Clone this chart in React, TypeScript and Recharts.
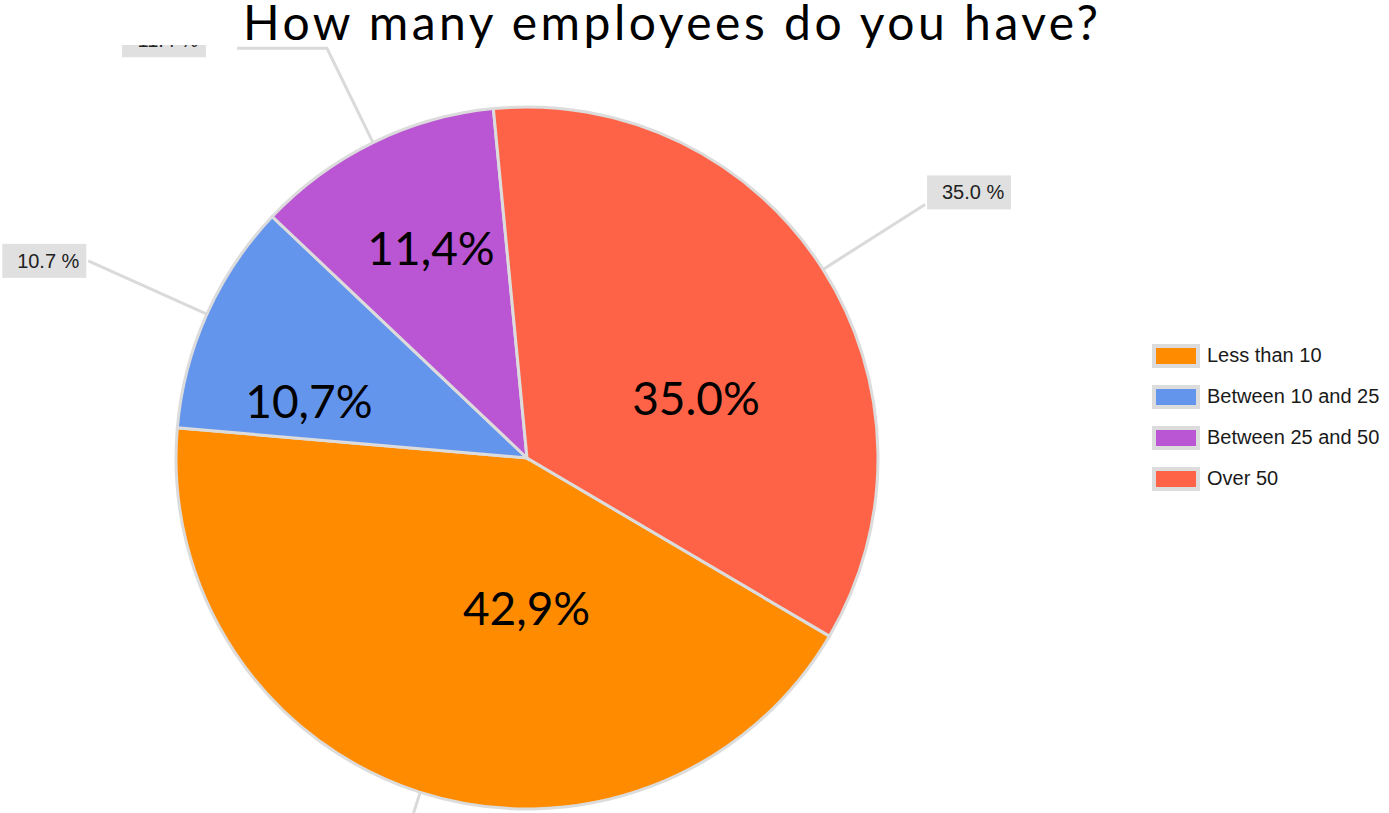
import { PieChart, Pie, Cell, Legend } from "recharts";

// ── Data ───────────────────────────────────────────────────────────────────

const categories = ["Less than 10", "Between 10 and 25", "Between 25 and 50", "Over 50"];
const shares = [42.9, 10.7, 11.4, 35.0];
// the big labels typed on the slide (mixed separators kept as-is)
const slideLabels = ["42,9%", "10,7%", "11,4%", "35.0%"];
const colors = ["#FF8C00", "#6495ED", "#BA55D3", "#FF6347"];

const data = categories.map((name, i) => ({ name, value: shares[i] }));

// ── Label layout tweaks ────────────────────────────────────────────────────

const insideNudge = [
  [53, -18],
  [-58, 14],
  [-19, -53],
  [21, 34],
];
const leaders = [
  { len: 100, elbow: 0, gap: 2, dy: 0 },
  { len: 130, elbow: 0, gap: 2, dy: 0 },
  { len: 105, elbow: 90, gap: 31, dy: -8 },
  { len: 121, elbow: 0, gap: 2, dy: -12 },
];

const RAD = Math.PI / 180;
const slideFont = "Lato, 'Noto Sans', sans-serif";
const winFont = "'Liberation Sans', Arial, sans-serif";

function renderLabel(props: any) {
  const { cx, cy, midAngle, outerRadius, index, value } = props;
  const cos = Math.cos(-midAngle * RAD);
  const sin = Math.sin(-midAngle * RAD);
  const ix = cx + outerRadius * 0.5 * cos + insideNudge[index][0];
  const iy = cy + outerRadius * 0.5 * sin + insideNudge[index][1];

  const l = leaders[index];
  const sx = cx + outerRadius * cos;
  const sy = cy + outerRadius * sin;
  const ex = sx + l.len * cos;
  const ey = sy + l.len * sin;
  const right = cos >= 0;
  const hx = ex + (right ? 1 : -1) * l.elbow;
  const boxW = 84;
  const boxH = 34;
  const bx = right ? hx + l.gap : hx - l.gap - boxW;
  const by = ey + l.dy - boxH / 2;

  return (
    <g key={`lbl-${index}`}>
      <polyline
        points={`${sx},${sy} ${ex},${ey} ${hx},${ey}`}
        fill="none"
        stroke="#dadada"
        strokeWidth={3}
      />
      <rect x={bx} y={by} width={boxW} height={boxH} fill="#e0e0e0" />
      <text
        x={bx + boxW / 2 + 4}
        y={by + boxH / 2}
        textAnchor="middle"
        dominantBaseline="central"
        fontFamily={winFont}
        fontSize={20}
        fill="#222"
      >
        {`${Number(value).toFixed(1)} %`}
      </text>
      <text
        x={ix}
        y={iy}
        textAnchor="middle"
        dominantBaseline="central"
        fontFamily={slideFont}
        fontSize={46}
        fill="#000"
      >
        {slideLabels[index]}
      </text>
    </g>
  );
}

function LegendContent() {
  return (
    <div style={{ fontFamily: winFont, fontSize: 20, color: "#1a1a1a" }}>
      {categories.map((c, i) => (
        <div key={c} style={{ display: "flex", alignItems: "center", height: 41, whiteSpace: "nowrap" }}>
          <span
            style={{
              display: "inline-block",
              width: 40,
              height: 16,
              background: colors[i],
              border: "4px solid #dcdcdc",
              marginRight: 7,
            }}
          />
          {c}
        </div>
      ))}
    </div>
  );
}

export default function App() {
  return (
    <div
      style={{
        position: "fixed",
        left: 0,
        top: 0,
        width: 1389,
        height: 813,
        overflow: "hidden",
        background: "#fff",
      }}
    >
      <PieChart width={1389} height={813} margin={{ top: 0, right: 0, bottom: 0, left: 0 }}>
        <Pie
          data={data}
          dataKey="value"
          nameKey="name"
          cx={527}
          cy={458}
          outerRadius={351}
          startAngle={-30.5}
          endAngle={-390.5}
          stroke="#dcdcdc"
          strokeWidth={3}
          label={renderLabel}
          labelLine={false}
          isAnimationActive={false}
        >
          {data.map((d, i) => (
            <Cell key={d.name} fill={colors[i]} />
          ))}
        </Pie>
        <Legend
          layout="vertical"
          align="right"
          verticalAlign="middle"
          content={<LegendContent />}
          wrapperStyle={{ left: 1152, top: 335, width: 240 }}
        />
      </PieChart>
      {/* slide title box: white fill hides the top of the clipped label */}
      <div
        style={{
          position: "absolute",
          left: 0,
          top: 0,
          width: 1389,
          height: 45,
          background: "#fff",
          zIndex: 10,
          overflow: "visible",
        }}
      >
        <svg width={1389} height={60} style={{ overflow: "visible" }}>
          <text
            x={243}
            y={40}
            fontFamily={slideFont}
            fontSize={48}
            textLength={855}
            lengthAdjust="spacing"
            fill="#000"
          >
            How many employees do you have?
          </text>
        </svg>
      </div>
    </div>
  );
}
